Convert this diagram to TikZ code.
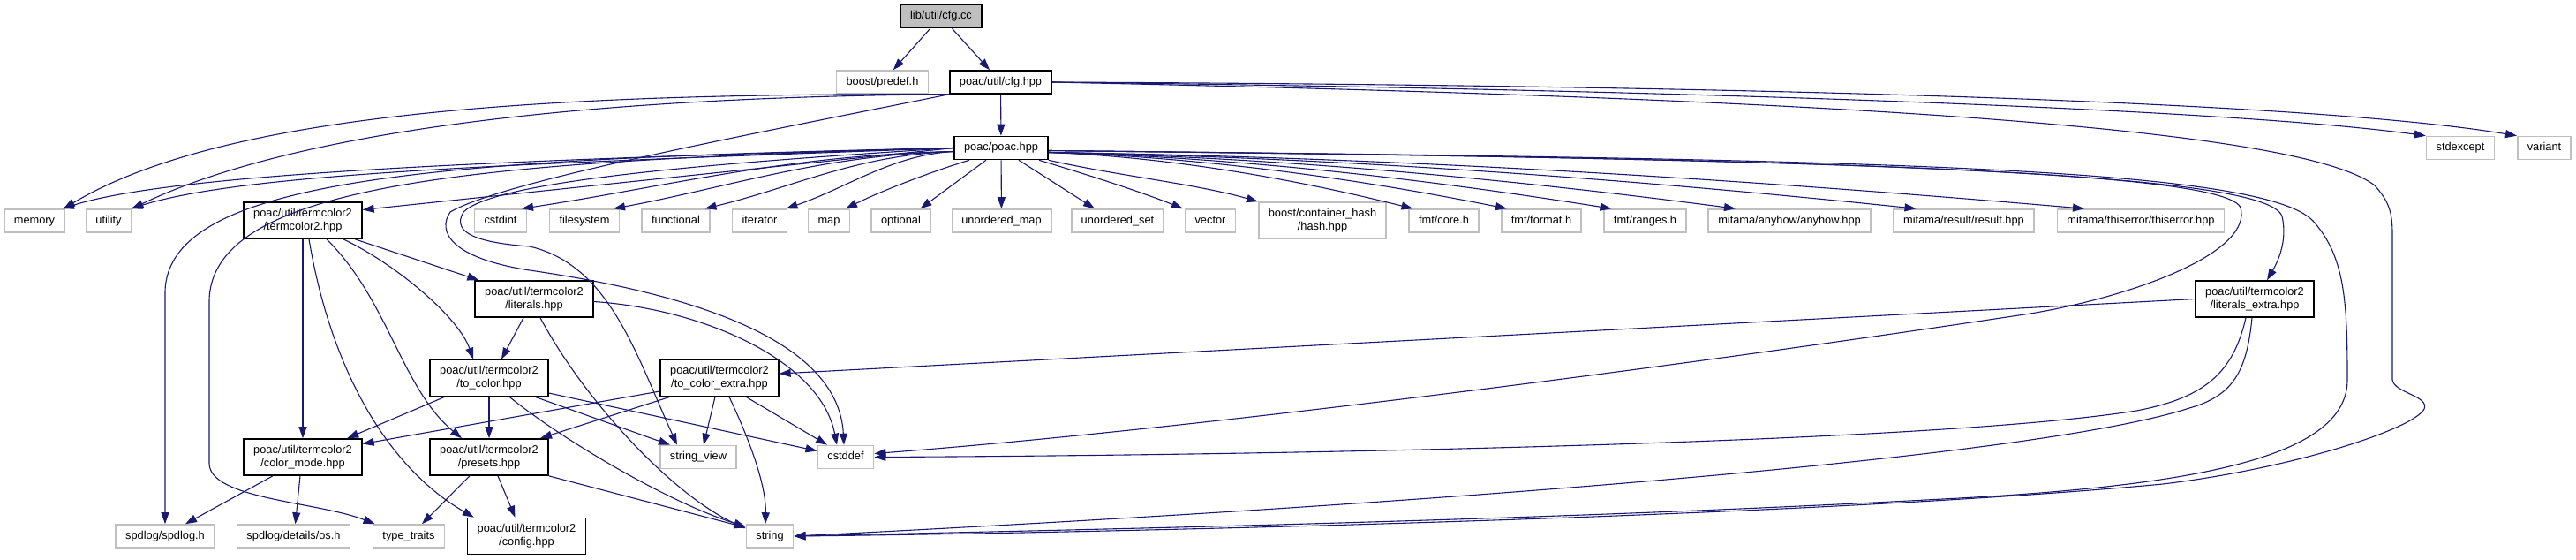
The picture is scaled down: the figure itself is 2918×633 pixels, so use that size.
\documentclass[tikz,border=0pt]{standalone}
\usepackage{fontspec}
\setmainfont{Liberation Sans}
\usetikzlibrary{arrows.meta}
\definecolor{edgeblue}{HTML}{191970}
\definecolor{boxgray}{HTML}{BFBFBF}
\tikzset{
  filebox/.style={line width=1.6pt, fill=white, font=\fontsize{12.8}{15}\selectfont,
    inner xsep=11pt, inner ysep=0pt},
  hdrbox/.style={filebox, draw=boxgray, minimum height=26pt, text height=9.5pt, text depth=2.8pt},
  hdrbox2/.style={filebox, draw=boxgray, align=center, minimum height=41pt},
  ownbox/.style={filebox, draw=black, minimum height=26pt, text height=9.5pt, text depth=2.8pt},
  ownbox2/.style={filebox, draw=black, align=center, minimum height=41pt},
  rootbox/.style={ownbox, fill=boxgray},
  incl/.style={draw=edgeblue, line width=1.1pt, -{Triangle[length=13pt,width=9pt]}}
}
\begin{document}
\begin{tikzpicture}[x=1pt,y=-1pt]
  \useasboundingbox (0,0) rectangle (2918,633);
  % files
  \node[rootbox] (cfgcc) at (1066,18.5) {lib/util/cfg.cc};
  \node[hdrbox] (predef) at (999.5,93) {boost/predef.h};
  \node[ownbox] (cfghpp) at (1133.5,93) {poac/util/cfg.hpp};
  \node[ownbox] (poac) at (1134,167.5) {poac/poac.hpp};
  \node[hdrbox] (stdexcept) at (2787,167.5) {stdexcept};
  \node[hdrbox] (variant) at (2882,167.5) {variant};
  \foreach \nm/\xc/\txt in {memory/39/memory, utility/123/utility, cstdint/567/cstdint,
      filesystem/662/filesystem, functional/765.5/functional, iterator/860.5/iterator,
      map/939/map, optional/1020.5/optional, umap/1134.5/unordered\_map,
      uset/1266/unordered\_set, vector/1371/vector, fmtcore/1635.5/{fmt/core.h},
      fmtformat/1746/{fmt/format.h}, fmtranges/1863.5/{fmt/ranges.h},
      anyhow/2027/{mitama/anyhow/anyhow.hpp}, result/2224.5/{mitama/result/result.hpp},
      thiserror/2425/{mitama/thiserror/thiserror.hpp}}
    \node[hdrbox] (\nm) at (\xc,250) {\txt};
  \node[ownbox2] (termcolor) at (343,249.5) {poac/util/termcolor2\\/termcolor2.hpp};
  \node[hdrbox2] (hash) at (1498,249.5) {boost/container\_hash\\/hash.hpp};
  \node[ownbox2] (literals) at (605,338.5) {poac/util/termcolor2\\/literals.hpp};
  \node[ownbox2] (litextra) at (2554,338.5) {poac/util/termcolor2\\/literals\_extra.hpp};
  \node[ownbox2] (tocolor) at (554,428) {poac/util/termcolor2\\/to\_color.hpp};
  \node[ownbox2] (tocolorx) at (815,428) {poac/util/termcolor2\\/to\_color\_extra.hpp};
  \node[ownbox2] (colormode) at (343,517.5) {poac/util/termcolor2\\/color\_mode.hpp};
  \node[ownbox2] (presets) at (554,517.5) {poac/util/termcolor2\\/presets.hpp};
  \node[hdrbox] (strview) at (791,517.5) {string\_view};
  \node[hdrbox] (cstddef) at (958,517.5) {cstddef};
  \foreach \nm/\xc/\txt in {spdlog/187/{spdlog/spdlog.h}, osh/332.5/{spdlog/details/os.h},
      typetraits/463/type\_traits, string/872/string}
    \node[hdrbox] (\nm) at (\xc,607) {\txt};
  \node[ownbox2] (config) at (596.5,607) {poac/util/termcolor2\\/config.hpp};

  % lib/util/cfg.cc
  \draw[incl] (cfgcc) -- (predef);
  \draw[incl] (cfgcc) -- (cfghpp);
  % poac/util/cfg.hpp
  \draw[incl] (cfghpp) -- (poac);
  \draw[incl] (cfghpp.south west) .. controls (600,105) and (250,130) .. ([xshift=-2pt]memory.north east);
  \draw[incl] (cfghpp.south west) .. controls (650,110) and (330,150) .. (utility.north east);
  \draw[incl] (cfghpp.south west) .. controls (850,152) and (570,205) .. (510,240)
    .. controls (495,262) and (510,292) .. (600,306)
    .. controls (800,335) and (950,390) .. ([xshift=-2pt]cstddef.north);
  \draw[incl] (cfghpp.east) .. controls (1800,100) and (2500,120) .. (stdexcept.north west);
  \draw[incl] (cfghpp.east) .. controls (1900,96) and (2600,112) .. (variant.north west);
  \draw[incl] (cfghpp.east) .. controls (2000,110) and (2600,140) .. (2690,210)
    .. controls (2706,228) and (2710,240) .. (2710,265) -- (2710,430)
    .. controls (2712,445) and (2752,448) .. (2746,463)
    .. controls (2735,485) and (2600,530) .. (2450,548)
    .. controls (2000,590) and (1100,605) .. (string.east);
  % poac/poac.hpp, to the left
  \draw[incl] (poac.west) .. controls (600,180) and (200,195) .. ([xshift=-3pt]memory.north east);
  \draw[incl] (poac.west) .. controls (600,185) and (280,195) .. ([xshift=-1pt]utility.north east);
  \draw[incl] (poac.west) .. controls (500,180) and (190,200) .. (187,330) -- (spdlog.north);
  \draw[incl] (poac.west) .. controls (550,182) and (240,205) .. (237,340) -- (237,525)
    .. controls (238,565) and (360,568) .. ([xshift=3pt]typetraits.north west);
  \draw[incl] (poac.west) -- ([yshift=12pt]termcolor.east);
  \draw[incl] (poac.west) .. controls (800,185) and (560,205) .. (525,240)
    .. controls (510,265) and (545,275) .. (600,279)
    .. controls (690,300) and (720,400) .. ([xshift=-24pt]strview.north);
  \foreach \t/\dx/\ca/\cb in {cstdint/24/190/160, filesystem/33/150/130, functional/33/110/100, iterator/30/70/70}
    \draw[incl] ([yshift=-4pt]poac.west) .. controls +(-\ca,4) and +(\cb,-24) .. ([xshift=\dx pt]\t.north);
  \draw[incl] ([xshift=-36pt]poac.south) .. controls +(-40,12) and +(40,-20) .. ([xshift=19pt]map.north);
  \draw[incl] ([xshift=-17pt]poac.south) -- ([xshift=22pt]optional.north);
  % poac/poac.hpp, to the right
  \draw[incl] (poac) -- (umap);
  \draw[incl] ([xshift=20pt]poac.south) -- ([xshift=-26pt]uset.north);
  \draw[incl] ([xshift=43pt]poac.south) .. controls +(50,15) and +(-50,-20) .. ([xshift=-31pt]vector.north);
  \draw[incl] (poac.south east) .. controls +(80,18) and +(-70,-20) .. (hash.north west);
  \foreach \t/\dx/\ca/\cb in {fmtcore/-35/150/120, fmtformat/-39/190/150, fmtranges/-38/230/190,
      anyhow/-61/280/230, result/-54/350/290, thiserror/-64/420/350}
    \draw[incl] ([yshift=-5pt]poac.east) .. controls +(\ca,6) and +(-\cb,-30) .. ([xshift=\dx pt]\t.north);
  \draw[incl] ([yshift=-3pt]poac.east) .. controls (2100,180) and (2520,195) .. (2538,235)
    .. controls (2552,285) and (2420,335) .. (2300,355)
    .. controls (1800,430) and (1300,490) .. ([yshift=4pt]cstddef.east);
  \draw[incl] ([yshift=-3pt]poac.east) .. controls (2100,180) and (2570,195) .. (2585,245)
    .. controls (2592,275) and (2578,300) .. ([xshift=14pt]litextra.north);
  \draw[incl] ([yshift=-3pt]poac.east) .. controls (2100,180) and (2560,188) .. (2620,250)
    .. controls (2656,290) and (2659,340) .. (2659,430)
    .. controls (2659,515) and (2500,550) .. (2200,565)
    .. controls (1700,592) and (1100,602) .. (string.east);
  % termcolor2.hpp
  \draw[incl] (termcolor) -- (colormode);
  \draw[incl] ([xshift=7pt]termcolor.south) .. controls (375,420) and (440,530) .. ([xshift=8pt]config.north west);
  \draw[incl] ([xshift=27pt]termcolor.south) .. controls (440,340) and (455,440) .. ([xshift=-31pt]presets.north);
  \draw[incl] ([xshift=46pt]termcolor.south) .. controls (450,300) and (520,360) .. ([xshift=-18pt]tocolor.north);
  \draw[incl] ([xshift=59pt]termcolor.south) -- ([xshift=5pt]literals.north west);
  % literals.hpp
  \draw[incl] ([xshift=-12pt]literals.south) -- ([xshift=14pt]tocolor.north);
  \draw[incl] ([xshift=7pt]literals.south) .. controls (660,450) and (760,560) .. ([yshift=-5pt]string.north west);
  \draw[incl] ([yshift=-3pt]literals.east) .. controls (800,350) and (930,410) .. ([xshift=-10pt]cstddef.north);
  % to_color.hpp
  \draw[incl] (tocolor) -- (colormode);
  \draw[incl] (tocolor) -- (presets);
  \draw[incl] ([xshift=23pt]tocolor.south) .. controls (640,500) and (760,570) .. ([yshift=-3pt]string.north west);
  \draw[incl] ([xshift=52pt]tocolor.south) -- ([xshift=-32pt]strview.north);
  \draw[incl] ([yshift=-17pt]tocolor.east) -- ([yshift=7pt]cstddef.west);
  % to_color_extra.hpp
  \draw[incl] ([yshift=-15pt]tocolorx.west) -- ([yshift=15pt]colormode.east);
  \draw[incl] ([xshift=-56pt]tocolorx.south) -- ([xshift=58pt]presets.north);
  \draw[incl] ([xshift=-5pt]tocolorx.south) -- ([xshift=6pt]strview.north);
  \draw[incl] ([xshift=11pt]tocolorx.south) .. controls (850,500) and (868,550) .. ([xshift=-5pt]string.north);
  \draw[incl] ([xshift=30pt]tocolorx.south) -- ([xshift=-21pt]cstddef.north);
  % literals_extra.hpp
  \draw[incl] (litextra.west) -- ([yshift=5pt]tocolorx.east);
  \draw[incl] ([xshift=-10pt]litextra.south) .. controls (2530,420) and (2500,450) .. (2420,465)
    .. controls (2200,500) and (1500,515) .. (cstddef.east);
  \draw[incl] ([xshift=-3pt]litextra.south) .. controls (2545,420) and (2530,448) .. (2480,462)
    .. controls (2300,520) and (1600,572) .. (string.east);
  % color_mode.hpp and presets.hpp
  \draw[incl] ([xshift=-34pt]colormode.south) -- ([xshift=23pt]spdlog.north);
  \draw[incl] ([xshift=-3pt]colormode.south) -- ([xshift=2pt]osh.north);
  \draw[incl] ([xshift=-22pt]presets.south) -- ([xshift=15pt]typetraits.north);
  \draw[incl] ([xshift=10pt]presets.south) -- ([xshift=-13pt]config.north);
  \draw[incl] (presets.south east) -- ([yshift=-4pt]string.north west);
\end{tikzpicture}
\end{document}
